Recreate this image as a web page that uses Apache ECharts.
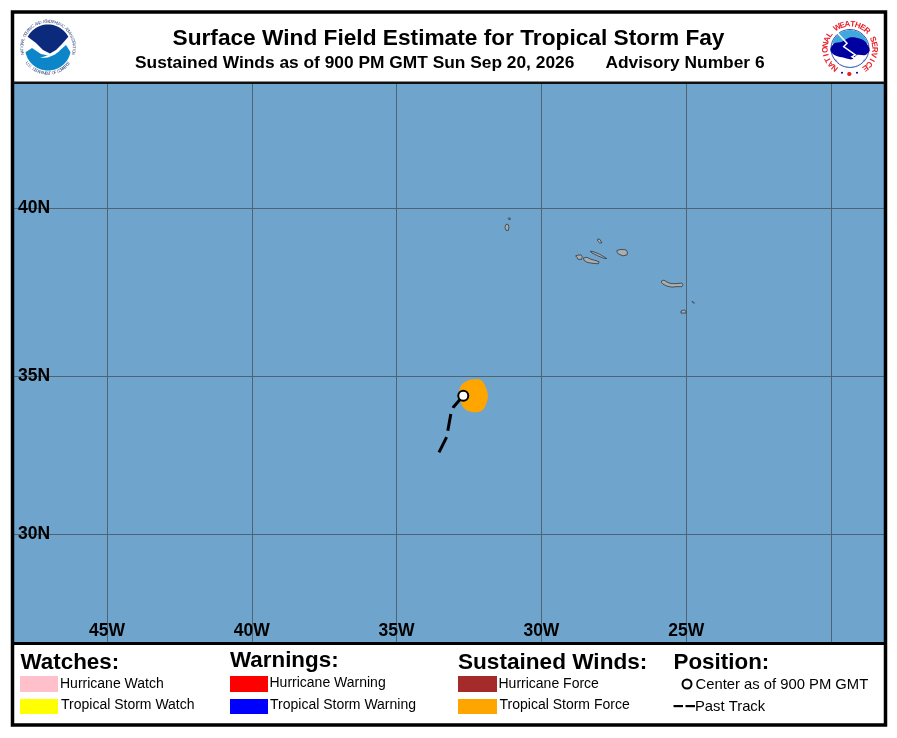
<!DOCTYPE html>
<html><head><meta charset="utf-8">
<style>html,body{margin:0;padding:0;background:#fff}#c{width:897px;height:738px}</style>
<script src="https://cdn.jsdelivr.net/npm/echarts@6/dist/echarts.min.js"></script>
</head><body><div id="c"></div>
<script>
// ---- data (lon, lat) ----
const lonTicks = [-45, -40, -35, -30, -25, -20];
const lonLabels = [-45, -40, -35, -30, -25];
const latTicks = [30, 35, 40];
const windField = [[-32.407,34.9],[-32.12,34.9],[-31.947,34.72],[-31.85,34.424],[-31.9,34.16],[-32.061,33.94],[-32.407,33.9],[-32.65,34.0],[-32.79,34.217],[-32.85,34.424],[-32.77,34.72],[-32.59,34.85]];
const pastTrack = [[-33.536,32.634],[-33.27,33.117],[-33.121,33.866],[-33.042,34.043],[-32.697,34.403]];
const center = [-32.697,34.403];
const corvo = [[-31.14,39.72],[-31.08,39.72],[-31.07,39.68],[-31.12,39.67],[-31.15,39.695]];
const flores = [[-31.22,39.535],[-31.15,39.535],[-31.12,39.46],[-31.14,39.36],[-31.22,39.36],[-31.26,39.45]];
const graciosa = [[-28.05,39.11],[-27.98,39.097],[-27.91,38.994],[-27.99,38.994],[-28.06,39.053]];
const terceira = [[-27.39,38.775],[-27.25,38.805],[-27.08,38.79],[-27.03,38.73],[-27.04,38.644],[-27.18,38.615],[-27.32,38.66],[-27.39,38.717]];
const saoJorge = [[-28.32,38.752],[-28.18,38.73],[-27.98,38.66],[-27.745,38.536],[-27.84,38.54],[-28.05,38.615],[-28.25,38.70]];
const faial = [[-28.82,38.615],[-28.736,38.635],[-28.63,38.644],[-28.59,38.586],[-28.615,38.507],[-28.736,38.513],[-28.77,38.571]];
const pico = [[-28.546,38.556],[-28.425,38.571],[-28.287,38.513],[-28.15,38.483],[-28.01,38.44],[-28.03,38.381],[-28.253,38.396],[-28.425,38.425],[-28.53,38.483]];
const saoMiguel = [[-25.853,37.87],[-25.767,37.90],[-25.663,37.84],[-25.525,37.795],[-25.352,37.795],[-25.145,37.81],[-25.11,37.765],[-25.145,37.705],[-25.352,37.705],[-25.49,37.69],[-25.663,37.72],[-25.801,37.78],[-25.853,37.825]];
const santaMaria = [[-25.18,36.976],[-25.076,37.015],[-25.007,36.976],[-25.007,36.917],[-25.18,36.917]];
const formigas = [[-24.8,37.265],[-24.766,37.26],[-24.714,37.215],[-24.749,37.215]];
const islands = [corvo, flores, graciosa, terceira, saoJorge, faial, pico, saoMiguel, santaMaria, formigas];

// map projection of the reference: latitude spacing widens northward
const proj = lat => (lat - 35) * (1 + (lat - 35) * 0.00613);
const P = p => [p[0], proj(p[1])];
const FONT = '"Liberation Sans", Arial, sans-serif';

function polygonSeries(name, pts, style, smooth) {
  const data = pts.map(P);
  return {
    type: 'custom', name, coordinateSystem: 'cartesian2d', data, silent: true,
    encode: { x: 0, y: 1 }, z: 3,
    renderItem(params, api) {
      if (params.dataIndex !== 0) return null;
      return { type: 'polygon', shape: { points: data.map(d => api.coord(d)), smooth: smooth || 0 }, style };
    }
  };
}

const series = [];
series.push(polygonSeries('Tropical Storm Force', windField, { fill: '#FFA500' }, 0.4));
islands.forEach((isl, i) => series.push(polygonSeries('Island ' + i, isl, { fill: '#ADADAD', stroke: '#3a4650', lineWidth: 0.9 }, 0)));
series.push({ type: 'line', name: 'Past Track', data: pastTrack.map(P), showSymbol: false, silent: true, z: 4,
  lineStyle: { color: '#000', width: 3, type: [17, 6.5] } });
series.push({ type: 'scatter', name: 'Center', data: [P(center)], symbol: 'circle', symbolSize: 10, silent: true, z: 5,
  itemStyle: { color: '#fff', borderColor: '#000', borderWidth: 2, opacity: 1 } });

// ---- page furniture ----
const txt = (s, x, y, size, bold, extra) => ({ type: 'text', x, y, z: 20, silent: true,
  style: Object.assign({ text: s, fill: '#000', font: (bold ? 'bold ' : '') + size + 'px ' + FONT, verticalAlign: 'middle', align: 'left' }, extra || {}) });
const rect = (x, y, w, h, fill, z) => ({ type: 'rect', z: z || 20, silent: true, shape: { x, y, width: w, height: h }, style: { fill } });
const arc = (cx, cy, r, a0, a1, n) => { const o = []; for (let i = 0; i <= n; i++) { const a = (a0 + (a1 - a0) * i / n) * Math.PI / 180; o.push([cx + r * Math.cos(a), cy - r * Math.sin(a)]); } return o; };
const poly = (points, fill, extra) => ({ type: 'polygon', z: 21, silent: true, shape: Object.assign({ points }, extra || {}), style: { fill } });
function ring(s, cx, cy, r, a0, a1, size, fill, bold, flip) {
  const out = []; const n = s.length;
  [...s].forEach((ch, i) => {
    const a = a0 + (a1 - a0) * (i + 0.5) / n, t = a * Math.PI / 180;
    out.push({ type: 'text', z: 22, silent: true, x: cx + r * Math.cos(t), y: cy - r * Math.sin(t),
      rotation: (a + (flip ? 90 : -90)) * Math.PI / 180,
      style: { text: ch, fill, font: (bold ? 'bold ' : '') + size + 'px ' + FONT, align: 'center', verticalAlign: 'middle' } });
  });
  return out;
}
const swatches = [
  [20, 676, 38, 16, '#FFC0CB'], [20, 699, 38, 15, '#FFFF00'],
  [230, 676, 38, 16, '#FF0000'], [230, 699, 38, 15, '#0000FF'],
  [458, 676, 39, 16, '#A52A2A'], [458, 699, 39, 15, '#FFA500']
];
const g = [];
// frame
g.push({ type: 'rect', z: 19, silent: true, shape: { x: 12.5, y: 12, width: 873, height: 713 }, style: { fill: 'none', stroke: '#000', lineWidth: 3.5 } });
g.push(rect(13, 81.5, 872, 2.5, '#111'));
g.push(rect(13, 642, 872, 3, '#000'));
// subtitle
g.push(txt('Sustained Winds as of 900 PM GMT Sun Sep 20, 2026', 135, 63.5, 17.35, true));
g.push(txt('Advisory Number 6', 605.5, 63.5, 17.35, true));
// legend
g.push(txt('Watches:', 20.5, 662.5, 22.4, true));
g.push(txt('Warnings:', 230, 660.5, 22.4, true));
g.push(txt('Sustained Winds:', 458, 662.5, 22.6, true));
g.push(txt('Position:', 673.5, 662.5, 22.4, true));
swatches.forEach(s => g.push(rect(s[0], s[1], s[2], s[3], s[4])));
g.push(txt('Hurricane Watch', 60, 684.5, 14));
g.push(txt('Tropical Storm Watch', 61, 705.5, 14));
g.push(txt('Hurricane Warning', 269.5, 683, 14));
g.push(txt('Tropical Storm Warning', 270, 705.5, 14));
g.push(txt('Hurricane Force', 498.5, 684.5, 14));
g.push(txt('Tropical Storm Force', 499.5, 705.5, 14));
g.push(txt('Center as of 900 PM GMT', 695.5, 684.5, 14.8));
g.push(txt('Past Track', 695, 706.5, 14.8));
g.push({ type: 'circle', z: 20, silent: true, shape: { cx: 687, cy: 684, r: 4.5 }, style: { fill: '#fff', stroke: '#000', lineWidth: 2 } });
g.push(rect(673.5, 705, 9.5, 2.2, '#000'));
g.push(rect(685.5, 705, 9.5, 2.2, '#000'));

// NOAA logo
const nx = 48, ny = 47.5;
g.push({ type: 'circle', z: 20, silent: true, shape: { cx: nx, cy: ny, r: 29 }, style: { fill: '#fff' } });
g.push(poly(arc(nx, ny, 23, 152, 28, 24).concat([[62, 44], [56, 50], [50, 53.5], [43, 50], [36, 43]]), '#0B2A7B'));
g.push(poly(arc(nx, ny, 23, 192, 348, 30).concat([[66, 45], [58, 52], [50, 56], [41, 54], [32, 48]]), '#0C86C8'));
g.push(poly([[40, 58], [50, 54.5], [60, 50.5], [55, 54.5], [48, 57.5]], '#fff'));
g.push(txt('NOAA', nx + 0.5, 36, 8.5, true, { fill: '#fff', align: 'center' }));
ring('NATIONAL OCEANIC AND ATMOSPHERIC ADMINISTRATION', nx, ny, 26, 195, -15, 4.3, '#46598a', false, false).forEach(e => g.push(e));
ring('U.S. DEPARTMENT OF COMMERCE', nx, ny, 26, 215, 325, 4.3, '#46598a', false, true).forEach(e => g.push(e));

// NWS logo
const wx = 850, wy = 48.5;
const Z = a => a.map(p => [797 + p[0] / 3, p[1] / 3]);
g.push({ type: 'circle', z: 20, silent: true, shape: { cx: wx, cy: wy, r: 19 }, style: { fill: '#fff', stroke: '#0A1F8F', lineWidth: 0.8 } });
g.push(poly(arc(wx, wy, 18.5, 165, 15, 20), '#3FA9DC'));
g.push(poly(arc(wx, wy, 18.5, 215, 325, 14).concat(arc(wx, wy + 3, 16, 330, 210, 14)), '#3FA9DC'));
g.push(poly(Z([[100,150],[112,130],[135,125],[160,112],[185,115],[205,125],[218,150],[205,165],[180,165],[165,178],[135,172],[112,165]]), '#0000A0', { smooth: 0.3 }));
g.push({ type: 'polyline', z: 22, silent: true, shape: { points: Z([[118,95],[150,130],[140,140],[175,165],[165,170],[195,187]]) }, style: { stroke: '#fff', lineWidth: 1.5, fill: 'none' } });
ring('NATIONAL WEATHER SERVICE', wx, 48.7, 24.5, 238, -58, 8, '#E8212B', true, false).forEach(e => g.push(e));
g.push(poly(arc(849.3, 74, 2.2, 0, 360, 10), '#E8212B'));
[[842, 72.7], [857, 72.7]].forEach(c => g.push({ type: 'circle', z: 22, silent: true, shape: { cx: c[0], cy: c[1], r: 1 }, style: { fill: '#0000A0' } }));

const latCoords = latTicks.map(proj);
const chart = echarts.init(document.getElementById('c'), null, { renderer: 'canvas' });
chart.setOption({
  animation: false,
  backgroundColor: '#fff',
  title: { text: 'Surface Wind Field Estimate for Tropical Storm Fay', left: 'center', top: 27, padding: 0,
    textStyle: { fontFamily: FONT, fontWeight: 'bold', fontSize: 22.7, color: '#000' } },
  grid: { left: 14, right: 13, top: 84, bottom: 96, show: true, backgroundColor: '#6FA5CC', borderWidth: 0 },
  xAxis: { type: 'value', min: -48.21, max: -18.17, axisLine: { show: false },
    axisTick: { show: false, customValues: lonTicks },
    splitLine: { show: true, lineStyle: { color: '#4F6373', width: 1 } },
    axisLabel: { inside: true, customValues: lonLabels, margin: 2, fontFamily: FONT, fontWeight: 'bold', fontSize: 17.5, color: '#000',
      formatter: v => Math.abs(Math.round(v)) + 'W', hideOverlap: false } },
  yAxis: { type: 'value', min: -8.15, max: 8.966, axisLine: { show: false },
    axisTick: { show: false, customValues: latCoords },
    splitLine: { show: true, lineStyle: { color: '#4F6373', width: 1 } },
    axisLabel: { inside: true, customValues: latCoords, margin: 4, padding: [4, 0, 0, 0], fontFamily: FONT, fontWeight: 'bold', fontSize: 17.5, color: '#000',
      formatter: v => latTicks[latCoords.findIndex(x => Math.abs(x - v) < 1e-6)] + 'N' } },
  tooltip: { show: false },
  series,
  graphic: { elements: g }
});
</script></body></html>
